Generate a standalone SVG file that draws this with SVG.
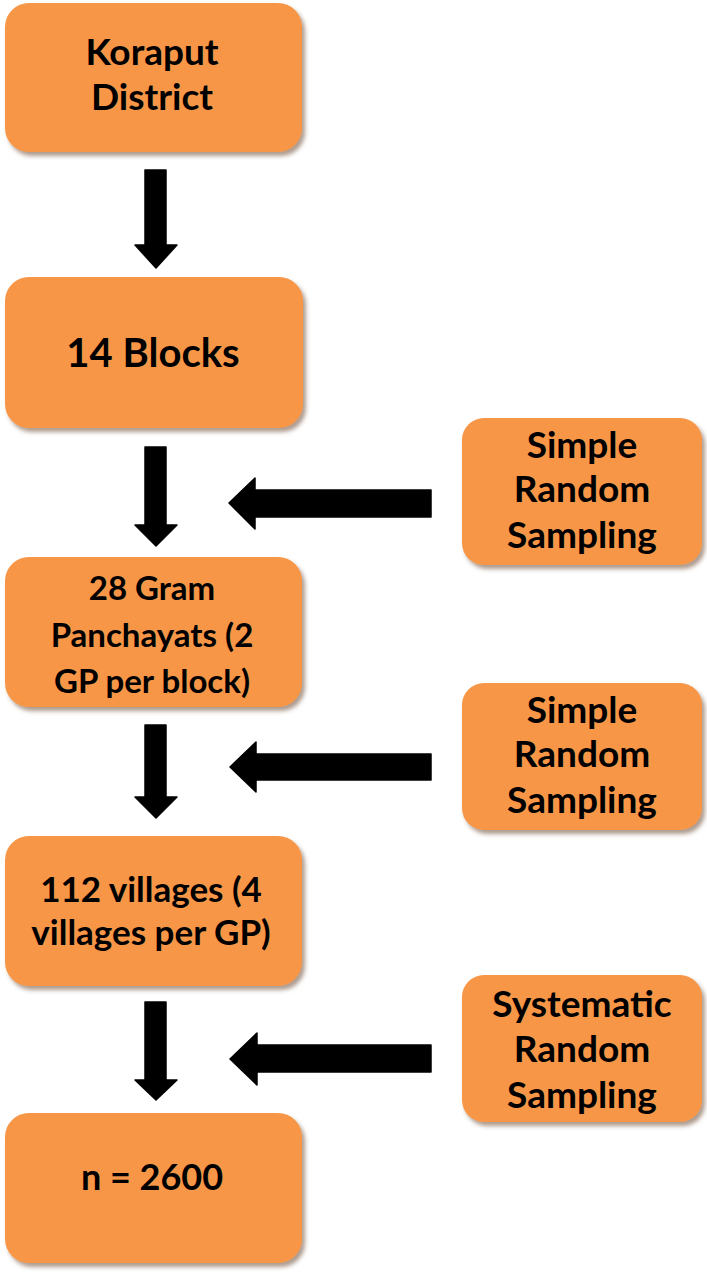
<svg xmlns="http://www.w3.org/2000/svg" width="707" height="1272" viewBox="0 0 707 1272">
<style>
.box{fill:#F79646;filter:url(#sh)}
.t{font-family:Lato,"Liberation Sans",sans-serif;font-weight:bold;fill:#000;text-anchor:middle}
.arr{fill:#000;stroke:#000;stroke-width:1.5;stroke-linejoin:round}
</style>
<defs>
<filter id="sh" x="-10%" y="-10%" width="125%" height="125%">
<feDropShadow dx="3" dy="4" stdDeviation="2" flood-color="#6b4a30" flood-opacity="0.55"/>
</filter>
</defs>
<rect width="707" height="1272" fill="#fff"/>
<g id="n1"><rect class="box" x="5" y="3" width="297" height="149" rx="24"/>
<text class="t" font-size="37" x="152" y="65">Koraput</text>
<text class="t" font-size="37" x="152" y="110">District</text></g>
<g id="n2"><rect class="box" x="5" y="277" width="298" height="151" rx="24"/>
<text class="t" font-size="40" x="153" y="367">14 Blocks</text></g>
<g id="n3"><rect class="box" x="5" y="557" width="297" height="150" rx="24"/>
<text class="t" font-size="33" x="152" y="600">28 Gram</text>
<text class="t" font-size="33" x="152" y="647">Panchayats (2</text>
<text class="t" font-size="33" x="152" y="693">GP per block)</text></g>
<g id="n4"><rect class="box" x="5" y="836" width="297" height="150" rx="24"/>
<text class="t" font-size="35" x="151" y="902">112 villages (4</text>
<text class="t" font-size="35" x="151" y="945">villages per GP)</text></g>
<g id="n5"><rect class="box" x="5" y="1113" width="297" height="150" rx="24"/>
<text class="t" font-size="36" x="152" y="1190">n = 2600</text></g>
<g id="r1"><rect class="box" x="462" y="418" width="240" height="147" rx="22"/>
<text class="t" font-size="37" x="582" y="458">Simple</text>
<text class="t" font-size="37" x="582" y="502">Random</text>
<text class="t" font-size="37" x="582" y="548">Sampling</text></g>
<g id="r2"><rect class="box" x="462" y="683" width="240" height="147" rx="22"/>
<text class="t" font-size="37" x="582" y="723">Simple</text>
<text class="t" font-size="37" x="582" y="767">Random</text>
<text class="t" font-size="37" x="582" y="813">Sampling</text></g>
<g id="r3"><rect class="box" x="462" y="975" width="240" height="147" rx="22"/>
<text class="t" font-size="37" x="582" y="1017">Systematic</text>
<text class="t" font-size="37" x="582" y="1062">Random</text>
<text class="t" font-size="37" x="582" y="1108">Sampling</text></g>
<g id="connectors">
<polygon class="arr" points="145,170 166,170 166,245 177,245 156,268 135,245 145,245"/>
<polygon class="arr" points="145,447 166,447 166,525 177,525 156,546 135,525 145,525"/>
<polygon class="arr" points="145,725 166,725 166,797 177,797 156,818 135,797 145,797"/>
<polygon class="arr" points="145,1002 166,1002 166,1080 177,1080 156,1100 135,1080 145,1080"/>
<polygon class="arr" points="431,490 431,517 255,517 255,529 229,503 255,478 255,490"/>
<polygon class="arr" points="431,754 431,780 256,780 256,792 230,767 256,742 256,754"/>
<polygon class="arr" points="431,1045 431,1072 257,1072 257,1085 230,1059 257,1033 257,1045"/>
</g>
</svg>
